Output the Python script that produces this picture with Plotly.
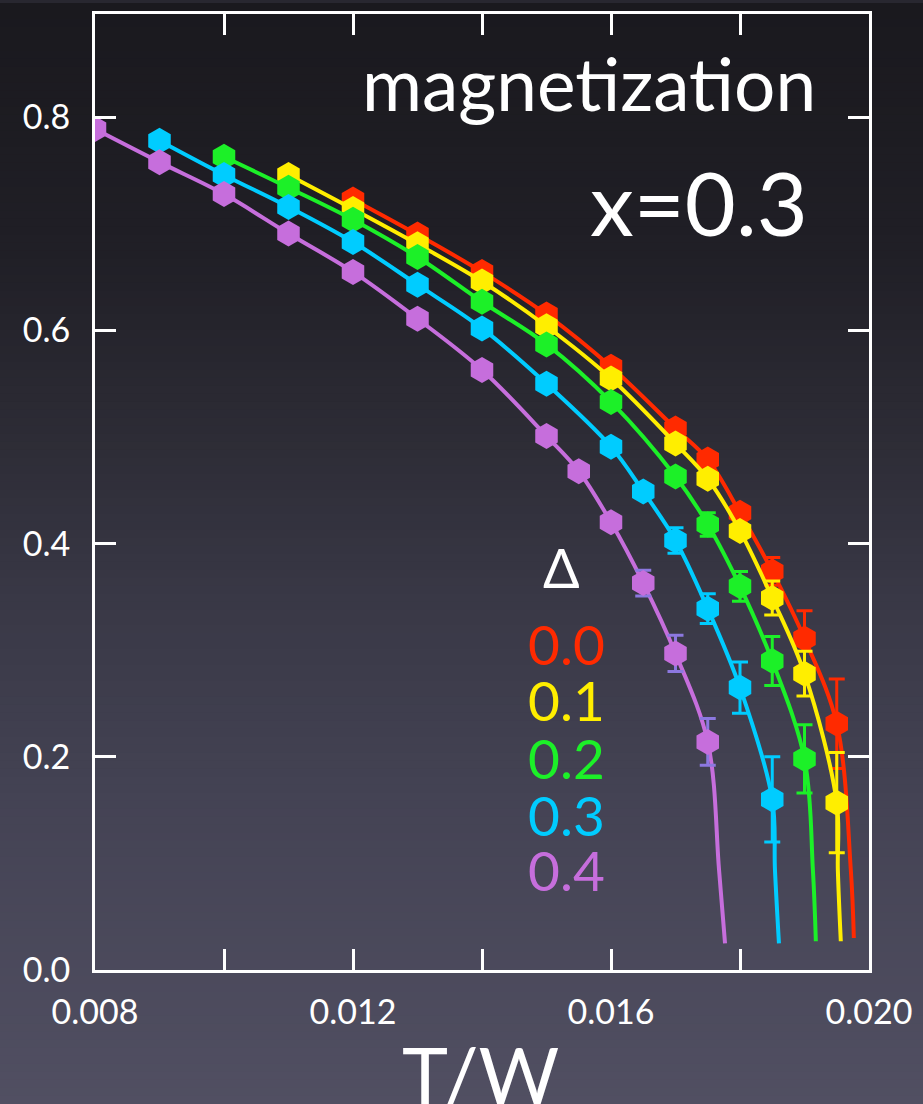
import plotly.graph_objects as go

# ---- data: magnetization vs T/W at x=0.3 for several disorder strengths Δ ----
T_d00 = [0.012, 0.013, 0.014, 0.015, 0.016, 0.017, 0.0175, 0.018, 0.0185, 0.019, 0.0195]
m_d00 = [0.723, 0.690, 0.655, 0.615, 0.566, 0.508, 0.479, 0.429, 0.374, 0.311, 0.231]
e_d00 = [0, 0, 0, 0, 0, 0, 0, 0, 0.013, 0.026, 0.042]
fitT_d00 = [0.019718, 0.019765]
fitm_d00 = [0.094, 0.030]

T_d01 = [0.011, 0.012, 0.013, 0.014, 0.015, 0.016, 0.017, 0.0175, 0.018, 0.0185, 0.019, 0.0195]
m_d01 = [0.746, 0.714, 0.681, 0.646, 0.604, 0.555, 0.494, 0.461, 0.412, 0.349, 0.278, 0.157]
e_d01 = [0, 0, 0, 0, 0, 0, 0, 0, 0, 0.016, 0.021, 0.047]
fitT_d01 = [0.019517, 0.019563]
fitm_d01 = [0.094, 0.027]

T_d02 = [0.010, 0.011, 0.012, 0.013, 0.014, 0.015, 0.016, 0.017, 0.0175, 0.018, 0.0185, 0.019]
m_d02 = [0.763, 0.734, 0.704, 0.669, 0.627, 0.587, 0.533, 0.463, 0.418, 0.360, 0.290, 0.198]
e_d02 = [0, 0, 0, 0, 0, 0, 0, 0, 0.011, 0.014, 0.023, 0.032]
fitT_d02 = [0.019130, 0.019176]
fitm_d02 = [0.094, 0.027]

T_d03 = [0.009, 0.010, 0.011, 0.012, 0.013, 0.014, 0.015, 0.016, 0.0165, 0.017, 0.0175, 0.018, 0.0185]
m_d03 = [0.778, 0.746, 0.716, 0.683, 0.643, 0.602, 0.550, 0.491, 0.449, 0.403, 0.339, 0.265, 0.160]
e_d03 = [0, 0, 0, 0, 0, 0, 0, 0, 0, 0.012, 0.014, 0.024, 0.040]
fitT_d03 = [0.018542, 0.018604]
fitm_d03 = [0.094, 0.025]

T_d04 = [0.008, 0.009, 0.010, 0.011, 0.012, 0.013, 0.014, 0.015, 0.0155, 0.016, 0.0165, 0.017, 0.0175]
m_d04 = [0.789, 0.758, 0.728, 0.691, 0.655, 0.611, 0.563, 0.501, 0.468, 0.420, 0.363, 0.297, 0.214]
e_d04 = [0, 0, 0, 0, 0, 0, 0, 0, 0, 0, 0.012, 0.017, 0.022]
fitT_d04 = [0.017675, 0.017768]
fitm_d04 = [0.094, 0.025]

delta_labels = ["0.0", "0.1", "0.2", "0.3", "0.4"]
colors = ["#ff2a00", "#ffee00", "#1cf028", "#00ccff", "#c66edc"]
err_colors = ["#ff2a00", "#ffee00", "#1cf028", "#00ccff", "#8c78e0"]

x_tickvals = [0.008, 0.010, 0.012, 0.014, 0.016, 0.018, 0.020]
x_ticktext = ["0.008", "", "0.012", "", "0.016", "", "0.020"]
y_tickvals = [0.0, 0.2, 0.4, 0.6, 0.8]

series = [
    (T_d00, m_d00, e_d00, fitT_d00, fitm_d00),
    (T_d01, m_d01, e_d01, fitT_d01, fitm_d01),
    (T_d02, m_d02, e_d02, fitT_d02, fitm_d02),
    (T_d03, m_d03, e_d03, fitT_d03, fitm_d03),
    (T_d04, m_d04, e_d04, fitT_d04, fitm_d04),
]

FONT = "Lato"
W, H = 923, 1104
ML, MR, MT, MB = 95, 54, 11, 134
PW, PH = W - ML - MR, H - MT - MB

fig = go.Figure()

for (T, m, e, fT, fm), col, ecol, lab in zip(series, colors, err_colors, delta_labels):
    fig.add_trace(go.Scatter(
        x=T + fT, y=m + fm, mode="lines",
        line=dict(color=col, width=4, shape="spline", smoothing=1.0),
        hoverinfo="skip", showlegend=False,
    ))
    fig.add_trace(go.Scatter(
        x=T, y=m, mode="markers", name=lab,
        marker=dict(symbol="hexagon", size=26, color=col, line=dict(width=0)),
        error_y=dict(type="data", array=e, visible=True, color=ecol,
                     thickness=3, width=8),
        showlegend=False,
    ))

# background gradient (dark charcoal at top, slate blue-grey at bottom)
stops = [(0, (26, 25, 30)), (250, (32, 31, 38)), (450, (46, 45, 55)),
         (600, (57, 56, 70)), (800, (68, 67, 84)), (1104, (81, 79, 98))]


def grad_color(py):
    for (p0, c0), (p1, c1) in zip(stops[:-1], stops[1:]):
        if p0 <= py <= p1:
            t = (py - p0) / (p1 - p0)
            return "rgb(%d,%d,%d)" % tuple(round(a + (b - a) * t) for a, b in zip(c0, c1))
    return "rgb(%d,%d,%d)" % stops[-1][1]


shapes = []
band = 8
for py in range(0, H, band):
    y0 = (H - MB - (py + band + 1)) / PH
    y1 = (H - MB - py) / PH
    shapes.append(dict(type="rect", xref="paper", yref="paper",
                       x0=-ML / PW - 0.01, x1=(W - ML) / PW + 0.01,
                       y0=y0, y1=y1, fillcolor=grad_color(py + band / 2),
                       line=dict(width=0), layer="below"))


def px_x(p):
    return (p - ML) / PW


def px_y(p):
    return (H - MB - p) / PH


annotations = [
    dict(text="magnetization", x=px_x(818), y=px_y(80), xref="paper", yref="paper",
         xanchor="right", yanchor="middle", showarrow=False,
         font=dict(family=FONT, size=73, color="white")),
    dict(text="x=0.3", x=px_x(810), y=px_y(200), xref="paper", yref="paper",
         xanchor="right", yanchor="middle", showarrow=False,
         font=dict(family=FONT, size=88, color="white")),
    dict(text="T/W", x=px_x(480), y=px_y(1074), xref="paper", yref="paper",
         xanchor="center", yanchor="middle", showarrow=False,
         font=dict(family=FONT, size=78, color="white")),
    dict(text="Δ", x=0.01524, y=0.378, xref="x", yref="y",
         xanchor="center", yanchor="middle", showarrow=False,
         font=dict(family=FONT, size=54, color="white")),
]
leg_y = [0.306, 0.253, 0.199, 0.145, 0.094]
for lab, col, yy in zip(delta_labels, colors, leg_y):
    annotations.append(dict(text=lab, x=0.01468, y=yy, xref="x", yref="y",
                            xanchor="left", yanchor="middle", showarrow=False,
                            font=dict(family=FONT, size=55, color=col)))

axis_common = dict(showline=True, linecolor="white", linewidth=3, mirror="allticks",
                   ticks="inside", ticklen=21, tickwidth=3, tickcolor="white",
                   showgrid=False, zeroline=False,
                   tickfont=dict(family=FONT, size=34, color="white"))

fig.update_layout(
    width=W, height=H,
    margin=dict(l=ML, r=MR, t=MT, b=MB, pad=0),
    paper_bgcolor="rgb(40,39,48)", plot_bgcolor="rgba(0,0,0,0)",
    shapes=shapes, annotations=annotations, showlegend=False,
    xaxis=dict(range=[0.008, 0.020], tickvals=x_tickvals, ticktext=x_ticktext,
               ticklabelstandoff=10, **axis_common),
    yaxis=dict(range=[0.0, 0.897], tickvals=y_tickvals, tickformat=".1f",
               ticklabelstandoff=15, **axis_common),
)

fig.write_html("out.html")
